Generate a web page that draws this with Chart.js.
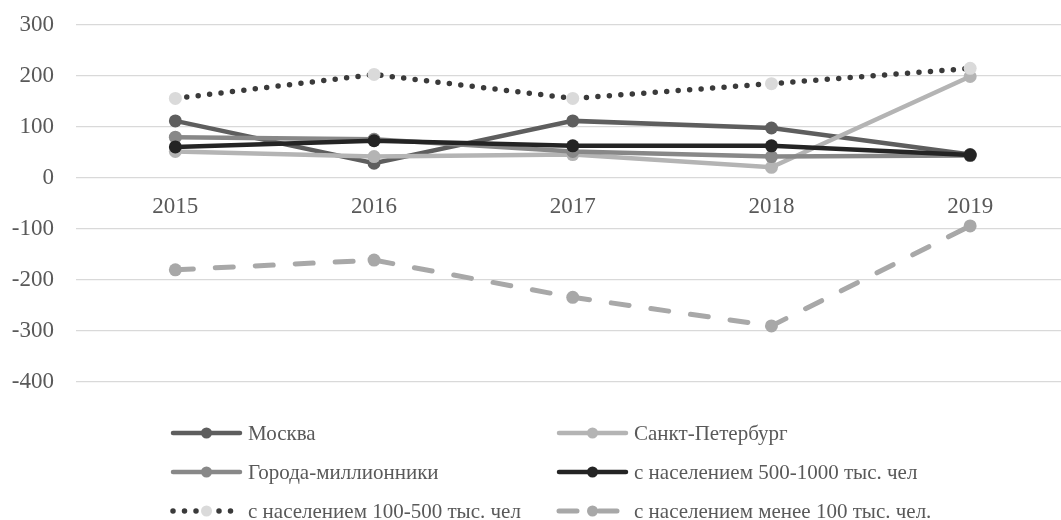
<!DOCTYPE html>
<html>
<head>
<meta charset="utf-8">
<script src="https://cdn.jsdelivr.net/npm/chart.js@4"></script>
<style>
  html, body { margin: 0; padding: 0; background: #fff; overflow: hidden; }
  #wrap { width: 1076px; height: 520px; }
</style>
</head>
<body>
<div id="wrap"><canvas id="chart" width="1076" height="520"></canvas></div>
<script>
const years = ['2015', '2016', '2017', '2018', '2019'];
const seriesNames = [
  'Москва',
  'Санкт-Петербург',
  'Города-миллионники',
  'с населением 500-1000 тыс. чел',
  'с населением 100-500 тыс. чел',
  'с населением менее 100 тыс. чел.'
];
const moscow = [112, 29, 112, 98, 46];
const spb = [52, 42, 46, 21, 199];
const millionCities = [80, 76, 52, 42, 44];
const pop500to1000 = [61, 73, 63, 63, 45];
const pop100to500 = [156, 203, 156, 185, 215];
const popUnder100 = [-180, -161, -234, -290, -94];
const yTicks = [300, 200, 100, 0, -100, -200, -300, -400];

const serif = "'Liberation Serif', 'Times New Roman', 'DejaVu Serif', serif";
const textColor = '#595959';

function series(i, data, line, marker, extra) {
  return Object.assign({
    label: seriesNames[i],
    data: data,
    borderColor: line,
    backgroundColor: marker,
    pointBackgroundColor: marker,
    pointBorderColor: marker,
    pointBorderWidth: 0,
    pointRadius: 6.5,
    borderWidth: 4.5,
    tension: 0,
    fill: false,
    order: seriesNames.length - i // later series on top, like Excel
  }, extra || {});
}

const datasets = [
  series(0, moscow, '#5e5e5e', '#5e5e5e'),
  series(1, spb, '#b4b4b4', '#b4b4b4'),
  series(2, millionCities, '#888888', '#888888'),
  series(3, pop500to1000, '#242424', '#242424'),
  series(4, pop100to500, '#3a3a3a', '#dadada', { borderDash: [0, 11.5], borderCapStyle: 'round', borderWidth: 5.5 }),
  series(5, popUnder100, '#a8a8a8', '#a8a8a8', { borderDash: [18, 22], borderCapStyle: 'round', borderWidth: 5 })
];

// legend in two columns, drawn from the dataset styles
const gridLegend = {
  id: 'gridLegend',
  afterDraw(chart) {
    const ctx = chart.ctx;
    const colX = [171, 557];
    const rowY = [433, 472, 511];
    chart.data.datasets.forEach((ds, i) => {
      const x = colX[i % 2];
      const y = rowY[Math.floor(i / 2)];
      const w = 71;
      ctx.save();
      ctx.strokeStyle = ds.borderColor;
      ctx.lineWidth = ds.borderWidth;
      ctx.lineCap = ds.borderCapStyle || 'round';
      ctx.setLineDash(ds.borderDash || []);
      ctx.beginPath();
      ctx.moveTo(x + 2, y);
      ctx.lineTo(x + w - 2, y);
      ctx.stroke();
      ctx.setLineDash([]);
      ctx.fillStyle = ds.pointBackgroundColor;
      ctx.beginPath();
      ctx.arc(x + w / 2, y, 5.5, 0, Math.PI * 2);
      ctx.fill();
      ctx.fillStyle = textColor;
      ctx.font = '21px ' + serif;
      ctx.textBaseline = 'middle';
      ctx.textAlign = 'left';
      ctx.fillText(ds.label, x + w + 6, y + 1);
      ctx.restore();
    });
  }
};

function draw() {
  new Chart(document.getElementById('chart'), {
    type: 'line',
    data: { labels: years, datasets: datasets },
    plugins: [gridLegend],
    options: {
      responsive: false,
      animation: false,
      layout: { padding: { top: 25, bottom: 138, left: 0, right: 0 } },
      plugins: { legend: { display: false }, tooltip: { enabled: false } },
      scales: {
        x: {
          position: { y: 0 },
          offset: true,
          grid: { display: false },
          border: { display: false },
          ticks: { color: textColor, font: { family: serif, size: 23 }, padding: 7, maxRotation: 0 },
          afterFit(scale) { scale.paddingTop = 0; scale.paddingBottom = 0; }
        },
        y: {
          min: -400,
          max: 300,
          afterBuildTicks(scale) { scale.ticks = yTicks.map(v => ({ value: v })); },
          afterFit(scale) { scale.width = 76; scale.paddingTop = 0; scale.paddingBottom = 0; },
          grid: { color: '#d9d9d9', lineWidth: 1.3, drawTicks: false },
          border: { display: false },
          ticks: { color: textColor, font: { family: serif, size: 23 }, padding: 22 }
        }
      }
    }
  });
}

Promise.all([
  document.fonts.load("23px 'Liberation Serif'"),
  document.fonts.load("21px 'Liberation Serif'")
]).then(draw, draw);
</script>
</body>
</html>
